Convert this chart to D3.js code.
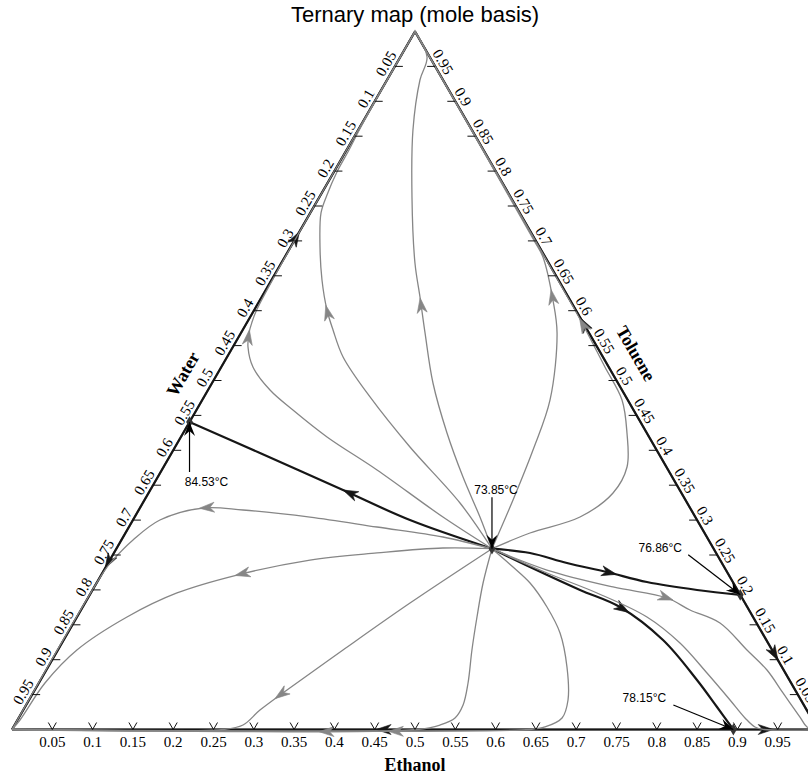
<!DOCTYPE html>
<html>
<head>
<meta charset="utf-8">
<script src="https://cdnjs.cloudflare.com/ajax/libs/d3/7.8.5/d3.min.js"></script>
<style>
body { margin: 0; background: #fff; }
</style>
</head>
<body>
<div id="vis"></div>
<script>
// compositions are [ethanol, toluene] mole fractions, water = 1 - ethanol - toluene
const tickValues = [0.05, 0.1, 0.15, 0.2, 0.25, 0.3, 0.35, 0.4, 0.45, 0.5,
    0.55, 0.6, 0.65, 0.7, 0.75, 0.8, 0.85, 0.9, 0.95];

const azeoNames = ["ternary", "waterToluene", "ethanolToluene", "ethanolWater"];
const azeoTemps = ["73.85°C", "84.53°C", "76.86°C", "78.15°C"];
const azeoComps = [[0.466, 0.259], [0, 0.4405], [0.807, 0.193], [0.895, 0]];

// distillation boundaries (black)
const boundaryWT = [[0.466, 0.259], [0.3437, 0.3001], [0.2391, 0.3431], [0.1096, 0.3961], [0, 0.4405]];
const boundaryET = [[0.466, 0.259], [0.5163, 0.2529], [0.5693, 0.2385], [0.6254, 0.2256], [0.6821, 0.2113], [0.75, 0.1999], [0.807, 0.193]];
const boundaryEW = [[0.466, 0.259], [0.5263, 0.2328], [0.6048, 0.1999], [0.6665, 0.1755], [0.7436, 0.1282], [0.8144, 0.0709], [0.8586, 0.0322], [0.895, 0]];
const edgeWTtoToluene = [[0, 0.4405], [0, 1]];
const edgeWTtoWater = [[0, 0.4405], [0, 0]];
const edgeETtoToluene = [[0.807, 0.193], [0, 1]];
const edgeETtoEthanol = [[0.807, 0.193], [1, 0]];
const edgeEWtoWater = [[0.895, 0], [0, 0]];
const edgeEWtoEthanol = [[0.895, 0], [1, 0]];

// residue curves (grey)
const curveA = [[0.466, 0.259], [0.4284, 0.3044], [0.3787, 0.3617], [0.3273, 0.4248], [0.2741, 0.4964], [0.2284, 0.5681], [0.1964, 0.6196], [0.1658, 0.6683], [0.1148, 0.7629], [0.068, 0.8589], [0.0409, 0.9305], [0.0332, 0.9635], [0, 1]];
const curveB = [[0.466, 0.259], [0.3936, 0.3245], [0.2914, 0.4047], [0.206, 0.4764], [0.1439, 0.5337], [0.1121, 0.5724], [0.0903, 0.601], [0.0626, 0.644], [0.0365, 0.6913], [0.0134, 0.74], [0.0079, 0.7658], [0.0038, 0.7987], [0.003, 0.8302], [0.0012, 0.866], [0, 1]];
const curveC = [[0.466, 0.259], [0.3825, 0.3044], [0.267, 0.3718], [0.1813, 0.4191], [0.1197, 0.4577], [0.0769, 0.4864], [0.0393, 0.5193], [0.0188, 0.548], [0.01, 0.5681], [0.0059, 0.5838], [0.003, 0.601], [0.001, 0.65], [0, 1]];
const curveD = [[0.466, 0.259], [0.5019, 0.2815], [0.5525, 0.3044], [0.5763, 0.3388], [0.575, 0.3761], [0.5506, 0.4248], [0.5208, 0.4721], [0.476, 0.5193], [0.4394, 0.558], [0.399, 0.6], [0, 1]];
const curveE = [[0.466, 0.259], [0.4572, 0.3288], [0.4462, 0.4004], [0.4315, 0.4721], [0.3922, 0.5681], [0.3635, 0.6153], [0.3203, 0.6769], [0.298, 0.7], [0, 1]];
const curveF = [[0.466, 0.259], [0.5052, 0.2328], [0.5378, 0.2099], [0.576, 0.1755], [0.6108, 0.1383], [0.6438, 0.0895], [0.6687, 0.0423], [0.6742, 0.0165], [0.6595, 0.0036], [0.6427, 0], [0, 0]];
const curveG = [[0.466, 0.259], [0.4795, 0.2099], [0.4963, 0.1612], [0.5137, 0.1139], [0.5325, 0.0666], [0.5421, 0.0351], [0.5414, 0.0165], [0.5278, 0.0064], [0.5025, 0], [0, 0]];
const curveH = [[0.466, 0.259], [0.4032, 0.1812], [0.3537, 0.1139], [0.3129, 0.0566], [0.2937, 0.0279], [0.2834, 0.0064], [0.2618, 0], [0, 0]];
const curveI = [[0.466, 0.259], [0.4047, 0.26], [0.3265, 0.2529], [0.2483, 0.2428], [0.1685, 0.2213], [0.1069, 0.1956], [0.0621, 0.1612], [0.0236, 0.1139], [0.0076, 0.0666], [0.0031, 0.0136], [0, 0]];
const curveJ = [[0.466, 0.259], [0.3968, 0.2758], [0.3078, 0.2901], [0.2175, 0.3044], [0.1294, 0.3145], [0.0783, 0.3173], [0.0335, 0.3001], [0.0144, 0.2715], [0.0039, 0.2428], [0.001, 0.228], [0, 0]];
const curveK = [[0.466, 0.259], [0.5495, 0.2285], [0.6436, 0.2042], [0.7185, 0.1884], [0.7556, 0.1712], [0.8021, 0.1526], [0.8549, 0.1139], [0.8941, 0.0852], [0.9304, 0.0523], [0.9687, 0.0179], [0.9846, 0.0036], [1, 0]];
const curveL = [[0.466, 0.259], [0.5517, 0.2242], [0.628, 0.1956], [0.7072, 0.1612], [0.7668, 0.1239], [0.8218, 0.0809], [0.8697, 0.0423], [0.9012, 0.0165], [0.92, 0.0036], [0.933, 0], [1, 0]];

const width = 808, height = 776;
const svg = d3.select("#vis").append("svg")
    .attr("width", width)
    .attr("height", height);

const x = d3.scaleLinear().domain([0, 1]).range([12, 818]);
const y = d3.scaleLinear().domain([0, 1]).range([729.5, 31.5]);
const project = d => [x(d[0] + d[1] / 2), y(d[1])];

const line = d3.line()
    .x(d => project(d)[0])
    .y(d => project(d)[1])
    .curve(d3.curveCatmullRom.alpha(0.5));

const serif = "'Liberation Serif', 'Times New Roman', serif";
const sans = "'Liberation Sans', Arial, sans-serif";
const arrowShape = "M6,0 L-9,-5 L-4.5,0 L-9,5 Z";

// triangle frame
svg.append("path")
    .attr("d", line.curve(d3.curveLinear)([[0, 0], [1, 0], [0, 1], [0, 0]]))
    .attr("fill", "none")
    .attr("stroke", "#6a6a6a")
    .attr("stroke-width", 2);
line.curve(d3.curveCatmullRom.alpha(0.5));

function drawCurve(pts, color, w, arrowAt) {
    const p = svg.append("path")
        .attr("d", line(pts))
        .attr("fill", "none")
        .attr("stroke", color)
        .attr("stroke-width", w)
        .attr("stroke-linejoin", "round");
    if (arrowAt == null) return;
    const node = p.node();
    const len = node.getTotalLength();
    const a = node.getPointAtLength(len * arrowAt);
    const b = node.getPointAtLength(len * arrowAt - 2);
    const ang = Math.atan2(a.y - b.y, a.x - b.x) * 180 / Math.PI;
    svg.append("path")
        .attr("d", arrowShape)
        .attr("fill", color)
        .attr("stroke", color)
        .attr("stroke-width", 0.6)
        .attr("transform", `translate(${a.x},${a.y}) rotate(${ang})`);
}

const boundaries = [
    [edgeWTtoToluene, 0.474], [edgeWTtoWater, 0.459], [edgeETtoToluene, 0.4825],
    [edgeETtoEthanol, 0.447], [edgeEWtoWater, 0.487], [edgeEWtoEthanol, 0.4],
    [boundaryWT, 0.47], [boundaryET, 0.48], [boundaryEW, 0.47]
];
boundaries.forEach(([pts, f]) => drawCurve(pts, "#161616", 2.2, f));

const residue = [
    [curveA, 0.48], [curveB, 0.49], [curveC, 0.49], [curveD, 0.486], [curveE, 0.47],
    [curveF, 0.49], [curveG, 0.495], [curveH, 0.48], [curveI, 0.47], [curveJ, 0.486],
    [curveK, 0.47], [curveL, null]
];
residue.forEach(([pts, f]) => drawCurve(pts, "#868686", 1.3, f));

// ticks and tick labels
const cos60 = 0.5, sin60 = Math.sqrt(3) / 2;
tickValues.forEach(v => {
    // left side: water
    const [lx, ly] = project([0, 1 - v]);
    svg.append("line").attr("x1", lx).attr("y1", ly).attr("x2", lx + 8).attr("y2", ly)
        .attr("stroke", "#111").attr("stroke-width", 1);
    svg.append("text")
        .attr("transform", `translate(${lx - sin60 * 4 - cos60 * 2},${ly - cos60 * 4 + sin60 * 2}) rotate(-60)`)
        .attr("text-anchor", "middle")
        .style("font-family", serif).style("font-size", "15px")
        .text(v);
    // right side: toluene
    const [rx, ry] = project([1 - v, v]);
    svg.append("line").attr("x1", rx).attr("y1", ry).attr("x2", rx - 8).attr("y2", ry)
        .attr("stroke", "#111").attr("stroke-width", 1);
    svg.append("text")
        .attr("transform", `translate(${rx + sin60 * 4},${ry - cos60 * 4}) rotate(60)`)
        .attr("text-anchor", "middle")
        .style("font-family", serif).style("font-size", "15px")
        .text(v);
    // bottom: ethanol
    const [bx, by] = project([v, 0]);
    svg.append("path")
        .attr("d", `M${bx - 4},${by - 7} L${bx},${by} L${bx + 4},${by - 7}`)
        .attr("fill", "none").attr("stroke", "#111").attr("stroke-width", 1);
    svg.append("text")
        .attr("x", bx).attr("y", by + 17.5)
        .attr("text-anchor", "middle")
        .style("font-family", serif).style("font-size", "15px")
        .text(v);
});

// axis titles
const [wx, wy] = project([0, 0.488]);
svg.append("text")
    .attr("transform", `translate(${wx - sin60 * 30},${wy - cos60 * 30}) rotate(-60)`)
    .attr("text-anchor", "middle").attr("dy", "0.35em")
    .style("font-family", serif).style("font-size", "18px").style("font-weight", "bold")
    .text("Water");
const [tx, ty] = project([0.483, 0.517]);
svg.append("text")
    .attr("transform", `translate(${tx + sin60 * 30.5},${ty - cos60 * 30.5}) rotate(60)`)
    .attr("text-anchor", "middle").attr("dy", "0.35em")
    .style("font-family", serif).style("font-size", "18px").style("font-weight", "bold")
    .text("Toluene");
svg.append("text")
    .attr("x", x(0.5)).attr("y", y(0) + 41)
    .attr("text-anchor", "middle")
    .style("font-family", serif).style("font-size", "18px").style("font-weight", "bold")
    .text("Ethanol");

svg.append("text")
    .attr("x", x(0.5)).attr("y", 22)
    .attr("text-anchor", "middle")
    .style("font-family", sans).style("font-size", "22px")
    .text("Ternary map (mole basis)");

// azeotropes with temperature callouts: [line start dx, dy, text dx, dy]
const callouts = {
    ternary: [0, -51.5, 4, -54.5],
    waterToluene: [0, 50, 17, 64],
    ethanolToluene: [-52, -40, -80, -43],
    ethanolWater: [-60, -24.5, -89, -27.5]
};
azeoNames.forEach((name, i) => {
    const [px, py] = project(azeoComps[i]);
    const c = callouts[name];
    svg.append("path")
        .attr("d", d3.symbol(d3.symbolDiamond, 40)())
        .attr("transform", `translate(${px},${py})`)
        .attr("fill", "#333");
    const sx = px + c[0], sy = py + c[1];
    svg.append("line")
        .attr("x1", sx).attr("y1", sy).attr("x2", px).attr("y2", py)
        .attr("stroke", "#000").attr("stroke-width", 1.2);
    const ang = Math.atan2(py - sy, px - sx) * 180 / Math.PI;
    svg.append("path")
        .attr("d", "M0,0 L-14,-5.5 L-9,0 L-14,5.5 Z")
        .attr("fill", "#000")
        .attr("transform", `translate(${px},${py}) rotate(${ang})`);
    svg.append("text")
        .attr("x", px + c[2]).attr("y", py + c[3])
        .attr("text-anchor", "middle")
        .style("font-family", sans).style("font-size", "12px")
        .text(azeoTemps[i]);
});
</script>
</body>
</html>
